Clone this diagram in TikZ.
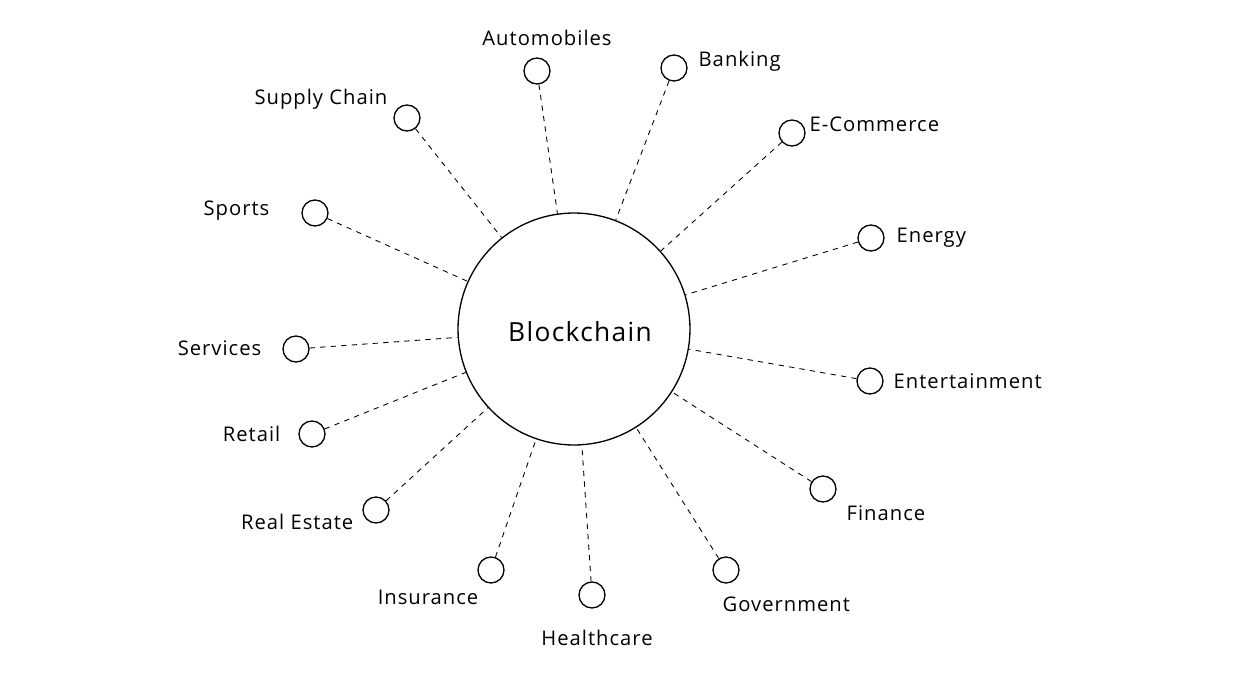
\documentclass[tikz,border=0pt]{standalone}
\usepackage{fontspec}
\setmainfont{Open Sans}[LetterSpace=5]
\begin{document}
\begin{tikzpicture}[x=0.02cm,y=-0.02cm,line width=0.75pt,
  hub/.style={circle,draw,minimum size=4.64cm,inner sep=0pt,font=\fontsize{15}{18}\selectfont},
  dot/.style={circle,draw,minimum size=0.52cm,inner sep=0pt},
  lbl/.style={inner sep=0pt,font=\fontsize{11.5}{14}\selectfont},
  link/.style={dashed,line width=0.5pt}]
\useasboundingbox (0,0) rectangle (1252,680);

\node[hub] (bc) at (574,329) {};
\node[font=\fontsize{15}{18}\selectfont] (tbc) at (580,332) {Blockchain};

\node[dot] (auto) at (537,71) {};
\node[dot] (bank) at (674,68) {};
\node[dot] (supp) at (407,118) {};
\node[dot] (ecom) at (792,133) {};
\node[dot] (spor) at (315,213) {};
\node[dot] (ener) at (871,238) {};
\node[dot] (serv) at (296,349) {};
\node[dot] (ente) at (870,381) {};
\node[dot] (reta) at (312,434) {};
\node[dot] (real) at (376,510) {};
\node[dot] (fina) at (823,489) {};
\node[dot] (insu) at (491,570) {};
\node[dot] (heal) at (592,595) {};
\node[dot] (gove) at (726,570) {};

\node[lbl] (tauto) at (547,38) {Automobiles};
\node[lbl,anchor=west] (tbank) at (698,61) {Banking};
\node[lbl,anchor=east] (tsupp) at (388,99) {Supply Chain};
\node[lbl,anchor=west] (tecom) at (809,124) {E-Commerce};
\node[lbl,anchor=east] (tspor) at (270,211) {Sports};
\node[lbl,anchor=west] (tener) at (896,238) {Energy};
\node[lbl,anchor=east] (tserv) at (262,348) {Services};
\node[lbl,anchor=west] (tente) at (893,381) {Entertainment};
\node[lbl,anchor=east] (treta) at (281,434) {Retail};
\node[lbl,anchor=east] (treal) at (354,522) {Real Estate};
\node[lbl,anchor=west] (tfina) at (846,513) {Finance};
\node[lbl,anchor=east] (tinsu) at (479,597) {Insurance};
\node[lbl] (theal) at (597,638) {Healthcare};
\node[lbl,anchor=west] (tgove) at (722,604) {Government};

\foreach \n in {auto,bank,supp,ecom,spor,ener,serv,ente,reta,real,fina,insu,heal,gove}
  \draw[link] (\n) -- (bc);
\end{tikzpicture}
\end{document}
